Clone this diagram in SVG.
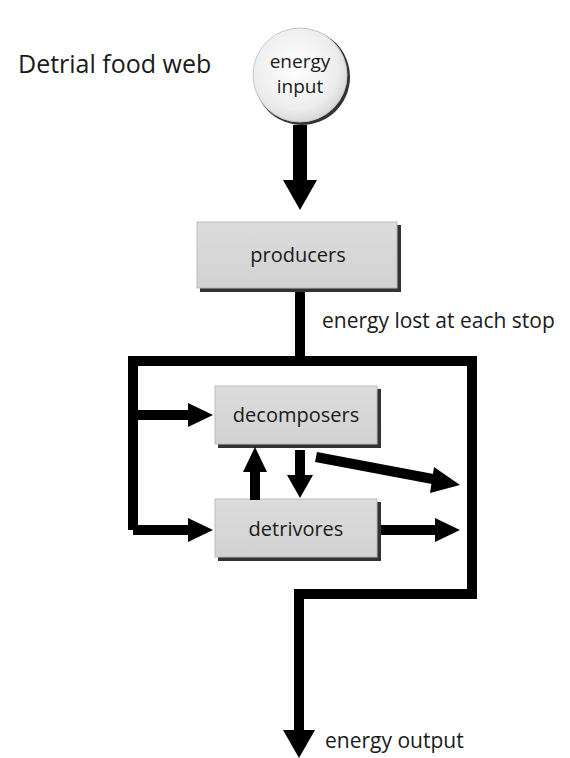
<svg xmlns="http://www.w3.org/2000/svg" width="570" height="758" viewBox="0 0 570 758">
<defs>
<radialGradient id="cg" cx="0.45" cy="0.42" r="0.6">
<stop offset="0" stop-color="#ffffff"/>
<stop offset="0.75" stop-color="#ededed"/>
<stop offset="1" stop-color="#d6d6d6"/>
</radialGradient>
<linearGradient id="bg" x1="0" y1="0" x2="0" y2="1">
<stop offset="0" stop-color="#dcdcdc"/>
<stop offset="1" stop-color="#d2d2d2"/>
</linearGradient>
</defs>
<style>
text{font-family:"Open Sans","Liberation Sans",sans-serif;fill:#1a1a1a}
.lbl{font-size:20px;text-anchor:middle}
.box{fill:url(#bg);stroke:#bbbbbb;stroke-width:1}
.shadow{fill:#333333}
.line{fill:none;stroke:#000;stroke-width:10;stroke-linejoin:miter}
.head{fill:#000}
</style>
<rect width="570" height="758" fill="#ffffff"/>
<text x="18" y="73" style="font-size:25px">Detrial food web</text>
<text x="322" y="328" style="font-size:21px">energy lost at each stop</text>
<text x="325" y="748" style="font-size:21px">energy output</text>
<g id="energy-input">
<circle cx="302" cy="77" r="48" fill="#333"/>
<circle cx="300" cy="75" r="47" fill="url(#cg)" stroke="#c8c8c8" stroke-width="1"/>
<text class="lbl" x="300" y="68" style="font-size:19px">energy</text>
<text class="lbl" x="300" y="93" style="font-size:19px">input</text>
</g>
<g id="producers">
<rect class="shadow" x="200" y="225" width="201" height="67"/>
<rect class="box" x="197" y="222" width="200" height="66"/>
<text class="lbl" x="298" y="262">producers</text>
</g>
<g id="decomposers">
<rect class="shadow" x="218" y="389" width="163" height="59"/>
<rect class="box" x="215" y="386" width="162" height="58"/>
<text class="lbl" x="296" y="422">decomposers</text>
</g>
<g id="detrivores">
<rect class="shadow" x="218" y="502" width="163" height="59"/>
<rect class="box" x="215" y="499" width="162" height="58"/>
<text class="lbl" x="296" y="536">detrivores</text>
</g>
<g id="connectors">
<rect x="293" y="125" width="14" height="57" fill="#000"/>
<polygon class="head" points="283,180 317,180 300,210"/>
<line class="line" x1="300" y1="292" x2="300" y2="361"/>
<polyline class="line" points="133,530 133,361 472,361 472,594 299,594 299,732"/>
<polygon class="head" points="283,730 315,730 299,758"/>
<line class="line" x1="133" y1="415" x2="190" y2="415"/>
<polygon class="head" points="188,403 213,415 188,427"/>
<line class="line" x1="133" y1="530" x2="190" y2="530"/>
<polygon class="head" points="188,518 213,530 188,542"/>
<line class="line" x1="255" y1="500" x2="255" y2="470"/>
<polygon class="head" points="243,472 267,472 255,447"/>
<line class="line" x1="300" y1="450" x2="300" y2="477"/>
<polygon class="head" points="287,475 313,475 300,498"/>
<line class="line" x1="316" y1="457" x2="438" y2="480"/>
<polygon class="head" points="434,467 460,485 430,493"/>
<line class="line" x1="381" y1="530" x2="437" y2="530"/>
<polygon class="head" points="435,518 460,530 435,542"/>
</g>
</svg>
